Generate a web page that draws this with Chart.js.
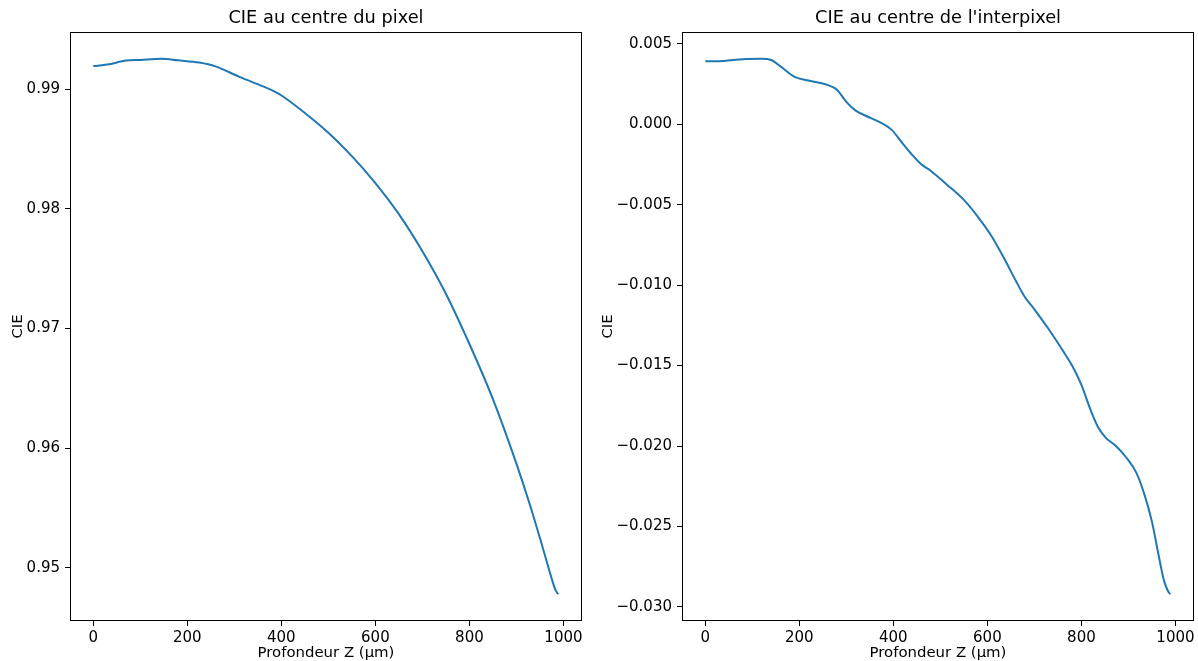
<!DOCTYPE html>
<html>
<head>
<meta charset="utf-8">
<script src="https://cdn.jsdelivr.net/npm/chart.js@4"></script>
<style>
  html, body { margin:0; padding:0; background:#fff; }
  #wrap { position:relative; width:1198px; height:661px; overflow:hidden; }
  canvas { position:absolute; top:0; }
</style>
</head>
<body>
<div id="wrap">
  <canvas id="c1" width="599" height="661" style="left:0px"></canvas>
  <canvas id="c2" width="599" height="661" style="left:599px"></canvas>
</div>
<script>
// ---- Data ----
const titleLeft = "CIE au centre du pixel";
const titleRight = "CIE au centre de l'interpixel";
const xLabel = "Profondeur Z (µm)";
const yLabel = "CIE";

const depthCenter = [0, 30, 70, 100, 145, 180, 225, 260, 312, 360, 383, 402, 450, 500, 550, 600, 650, 700, 750, 800, 850, 900, 930, 954, 975, 983, 989];
const cieCenter   = [0.99192, 0.99205, 0.99238, 0.99244, 0.99253, 0.99240, 0.99222, 0.99190, 0.99100, 0.99025, 0.98985, 0.98942, 0.98800, 0.98635, 0.98440, 0.98215, 0.97955, 0.97645, 0.97290, 0.96870, 0.96410, 0.95870, 0.95510, 0.95195, 0.94910, 0.94815, 0.94778];

const depthInter = [0, 40, 80, 120, 140, 160, 190, 220, 260, 280, 300, 320, 340, 370, 396, 420, 440, 460, 480, 514, 550, 579, 610, 637, 660, 680, 700, 731, 760, 781, 800, 820, 835, 852, 874, 895, 917, 935, 950, 965, 975, 983, 989];
const cieInter   = [0.00392, 0.00394, 0.00405, 0.00407, 0.00400, 0.00360, 0.00295, 0.00272, 0.00245, 0.00215, 0.00140, 0.00085, 0.00055, 0.00015, -0.00033, -0.00120, -0.00190, -0.00250, -0.00290, -0.00375, -0.00470, -0.00572, -0.00700, -0.00841, -0.00970, -0.01075, -0.01150, -0.01276, -0.01405, -0.01504, -0.01620, -0.01780, -0.01880, -0.01949, -0.02001, -0.02070, -0.02167, -0.02310, -0.02470, -0.02690, -0.02830, -0.02895, -0.02922];

const FONT = "'DejaVu Sans', sans-serif";
const TICK_SIZE = 15;
const LABEL_SIZE = 14.9;
const TITLE_SIZE = 17.8;

const framePlugin = {
  id: 'mplFrame',
  afterDraw(chart, args, opts) {
    const {ctx, chartArea: a} = chart;
    ctx.save();
    ctx.strokeStyle = '#000';
    ctx.lineWidth = 1;
    ctx.strokeRect(a.left + 0.5, a.top + 0.5, a.right - a.left - 1, a.bottom - a.top - 1);
    ctx.fillStyle = '#000';
    ctx.font = TITLE_SIZE + 'px ' + FONT;
    ctx.textAlign = 'center';
    ctx.textBaseline = 'alphabetic';
    ctx.fillText(opts.text, (a.left + a.right) / 2, a.top - 9);
    ctx.restore();
  }
};

function makeChart(id, xs, ys, opt) {
  const pts = xs.map((x, i) => ({x: x, y: ys[i]}));
  return new Chart(document.getElementById(id), {
    type: 'line',
    data: { datasets: [{
      data: pts,
      borderColor: '#1f77b4',
      borderWidth: 2,
      pointRadius: 0,
      fill: false,
      cubicInterpolationMode: 'monotone'
    }]},
    options: {
      responsive: false,
      animation: false,
      devicePixelRatio: 1,
      layout: { padding: { top: 32, right: opt.padRight, bottom: 0, left: 0 } },
      plugins: {
        legend: { display: false },
        tooltip: { enabled: false },
        mplFrame: { text: opt.title }
      },
      scales: {
        x: {
          type: 'linear',
          min: -49.5, max: 1039.5,
          afterFit: s => { s.height = 40; },
          border: { display: false },
          grid: { drawOnChartArea: false, drawTicks: true, tickLength: 5, color: '#000', lineWidth: 1 },
          ticks: { stepSize: 200, includeBounds: false, padding: 3, color: '#000', maxRotation: 0,
                   font: { family: FONT, size: TICK_SIZE },
                   callback: v => String(Math.round(v)) },
          title: { display: true, text: xLabel, color: '#000', padding: { top: 0, bottom: -1 },
                   font: { family: FONT, size: LABEL_SIZE, lineHeight: 1.2 } }
        },
        y: {
          type: 'linear',
          min: opt.ymin, max: opt.ymax,
          afterFit: s => { s.width = opt.yWidth; },
          border: { display: false },
          grid: { drawOnChartArea: false, drawTicks: true, tickLength: 5, color: '#000', lineWidth: 1 },
          ticks: { stepSize: opt.step, includeBounds: false, padding: 5, color: '#000',
                   font: { family: FONT, size: TICK_SIZE },
                   callback: v => v.toFixed(opt.dec).replace('-', '\u2212') },
          title: { display: true, text: yLabel, color: '#000', padding: { top: opt.yTitlePad, bottom: 0 },
                   font: { family: FONT, size: LABEL_SIZE, lineHeight: 1.2 } }
        }
      }
    },
    plugins: [framePlugin]
  });
}

makeChart('c1', depthCenter, cieCenter, {
  title: titleLeft, ymin: 0.94555, ymax: 0.99477, step: 0.01, dec: 2,
  yWidth: 70, padRight: 17, yTitlePad: 9.3
});
makeChart('c2', depthInter, cieInter, {
  title: titleRight, ymin: -0.03088, ymax: 0.00574, step: 0.005, dec: 3,
  yWidth: 83, padRight: 4, yTitlePad: 0
});
</script>
</body>
</html>
